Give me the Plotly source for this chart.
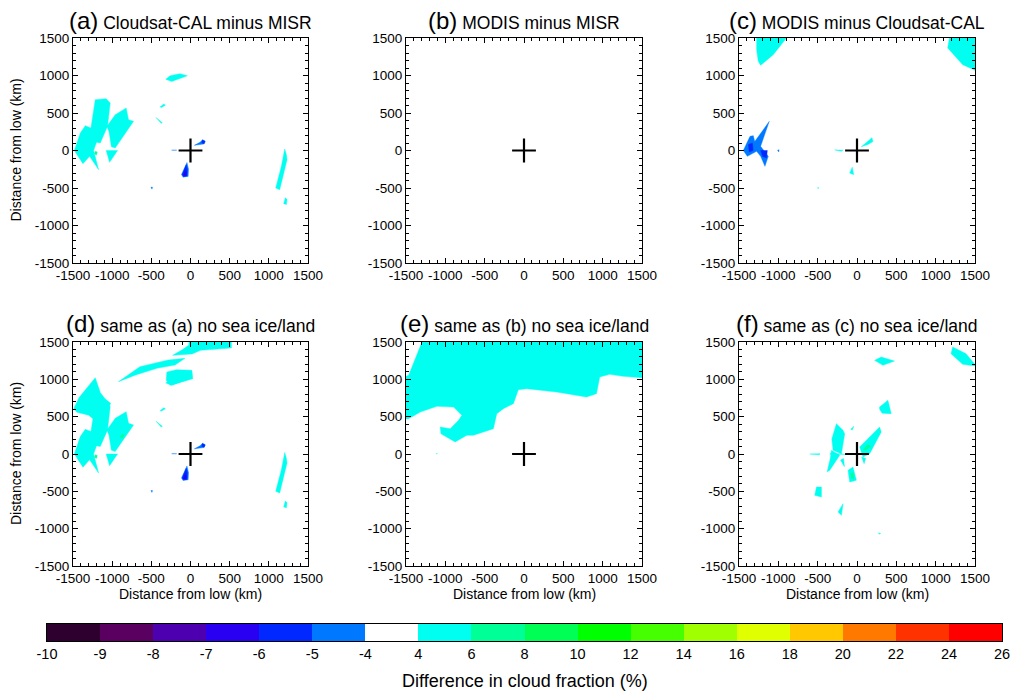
import plotly.graph_objects as go

# ---------------- data ----------------
LEVELS = [-10, -9, -8, -7, -6, -5, -4, 4, 6, 8, 10, 12, 14, 16, 18, 20, 22, 24, 26]
LEVEL_LABELS = ["-10", "-9", "-8", "-7", "-6", "-5", "-4", "4", "6", "8", "10",
                "12", "14", "16", "18", "20", "22", "24", "26"]
BIN_COLORS = ["#2d0030", "#5a0060", "#4d00b0", "#2a00f2", "#0028ff", "#0078ff",
              "#ffffff", "#00fff0", "#00ff96", "#00ff55", "#00ff00", "#46ff00",
              "#a0ff00", "#e0ff00", "#ffc800", "#ff7800", "#ff3200", "#ff0000"]

AXIS_TICKS = [-1500, -1000, -500, 0, 500, 1000, 1500]
AXIS_TICK_LABELS = ["-1500", "-1000", "-500", "0", "500", "1000", "1500"]

PANEL_LETTERS = ["(a)", "(b)", "(c)", "(d)", "(e)", "(f)"]
PANEL_TITLES = ["Cloudsat-CAL minus MISR", "MODIS minus MISR", "MODIS minus Cloudsat-CAL",
                "same as (a) no sea ice/land", "same as (b) no sea ice/land",
                "same as (c) no sea ice/land"]

LOW_CENTER_X = [0]
LOW_CENTER_Y = [0]

# polygons (km) of filled contour regions, grouped by colour bin
A_BIN_4_6 = [
    [(-1483, 0), (-1407, 233), (-1343, 331), (-1271, 300), (-1200, 110), (-1237, 0),
     (-1173, -256), (-1288, -78), (-1373, -176)],
    [(-1216, 678), (-1076, 691), (-1025, 633), (-1059, 322), (-1152, 100), (-1200, 110),
     (-1271, 300)],
    [(-1067, 322), (-961, 478), (-821, 567), (-791, 411), (-727, 389), (-961, 33),
     (-1010, 50), (-1040, 250)],
    [(-1076, 0), (-931, 0), (-1033, -158)],
    [(-316, 951), (-261, 996), (-134, 1024), (-40, 996), (-240, 920)],
    [(-390, 580), (-340, 620), (-320, 605), (-370, 575)],
    [(-440, 440), (-360, 370), (-375, 362)],
    [(1203, 20), (1225, -60), (1232, -122), (1139, -522), (1088, -500), (1160, -211)],
    [(1210, -630), (1232, -650), (1225, -720), (1190, -710)],
]
A_BIN_6_8 = [
    [(-1215, -10), (-1190, -20), (-1200, -60), (-1225, -45)],
]
A_BIN_M5_M4 = [
    [(49, 69), (121, 109), (155, 144), (189, 122), (172, 87), (121, 78)],
    [(-240, 4), (-176, 4), (-180, -5), (-240, -5)],
    [(-505, -488), (-485, -490), (-492, -515)],
    [(-45, -160), (-25, -250), (-30, -345), (-95, -355), (-115, -320), (-80, -240)],
]
A_BIN_M6_M5 = [
    [(150, 140), (185, 125), (175, 92), (145, 100)],
    [(-55, -190), (-40, -250), (-45, -340), (-90, -345), (-105, -320), (-75, -250)],
]
A_BIN_M7_M6 = [
    [(-65, -270), (-50, -300), (-60, -335), (-90, -330)],
]

D_EXTRA_BIN_4_6 = [
    [(-1490, 610), (-1420, 760), (-1216, 1022), (-1150, 820), (-1090, 740), (-1020, 680),
     (-1060, 560), (-1150, 470), (-1216, 450), (-1300, 520), (-1450, 560)],
    [(-920, 969), (-646, 1170), (-284, 1259), (-71, 1281), (-197, 1192), (-429, 1147),
     (-700, 1058)],
    [(-302, 1098), (-180, 1130), (17, 1120), (30, 1009), (-258, 920), (-310, 987)],
    [(-20, 1500), (522, 1500), (522, 1420), (129, 1388), (20, 1340), (-228, 1321),
     (-100, 1400), (-20, 1460)],
]
D_EXTRA_BIN_6_8 = [
    [(-900, 230), (-860, 270), (-850, 240), (-880, 215)],
]

C_BIN_4_6 = [
    [(-1276, 1500), (-896, 1500), (-1065, 1278), (-1225, 1136), (-1255, 1189), (-1276, 1344)],
    [(1175, 1500), (1500, 1500), (1500, 1069), (1344, 1144), (1153, 1367), (1175, 1480)],
    [(-283, 8), (-177, 5), (-200, -10)],
    [(55, 50), (140, 130), (190, 170), (203, 120), (140, 80)],
    [(-93, -300), (-60, -222), (-42, -322)],
    [(-500, -490), (-488, -495), (-495, -510)],
]
C_BIN_M5_M4 = [
    [(-1445, 0), (-1360, 189), (-1318, 198), (-1300, 120), (-1115, 389), (-1225, 56),
     (-1128, -78), (-1170, -211), (-1225, -78), (-1276, -11), (-1394, -78)],
    [(-1010, 5), (-990, 10), (-995, -20)],
]
C_BIN_M6_M5 = [
    [(-1380, 80), (-1330, 100), (-1320, 0), (-1370, -20)],
    [(-1225, 0), (-1140, 0), (-1150, -100), (-1200, -80)],
]

E_BIN_4_6 = [
    [(-1297, 1500), (1500, 1500), (1500, 1022), (1259, 1040), (1090, 1067), (963, 1031),
     (921, 808), (794, 763), (414, 830), (34, 875), (-72, 861), (-135, 674), (-262, 607),
     (-346, 540), (-389, 339), (-515, 295), (-642, 250), (-727, 250), (-875, 161),
     (-1056, 272), (-1065, 362), (-938, 339), (-832, 451), (-790, 518), (-895, 629),
     (-1107, 638), (-1318, 562), (-1466, 473), (-1500, 470), (-1500, 1040), (-1466, 1054)],
    [(-1120, 5), (-1100, 5), (-1110, -5)],
]

F_BIN_4_6 = [
    [(1217, 1433), (1386, 1344), (1500, 1200), (1500, 1180), (1343, 1201), (1195, 1344)],
    [(224, 1254), (308, 1299), (477, 1245), (330, 1187)],
    [(287, 629), (393, 719), (435, 540), (320, 545), (287, 600)],
    [(-320, 200), (-262, 406), (-180, 320), (-156, 272), (-198, 4), (-304, 49)],
    [(-325, 49), (-220, -18), (-346, -219), (-380, -240), (-340, -60)],
    [(34, 94), (203, 272), (287, 361), (308, 295), (161, 4), (76, -40)],
    [(-114, -219), (-51, -174), (-8, -353), (-93, -375)],
    [(-210, -80), (-170, -60), (-160, -170)],
    [(-80, 330), (-40, 370), (-60, 320)],
    [(-600, 0), (-470, 5), (-480, -10)],
    [(-340, 10), (-100, 5), (-100, -5), (-340, -5)],
    [(-515, -442), (-452, -442), (-452, -576), (-537, -554)],
    [(-241, -777), (-177, -665), (-198, -821)],
    [(60, -40), (110, -60), (90, -130)],
    [(270, -1060), (300, -1060), (290, -1075)],
]
F_BIN_6_8 = [
    [(80, 60), (140, 130), (170, 100), (110, 50)],
    [(-80, -260), (-50, -250), (-40, -330), (-70, -320)],
]

# which polygon groups go into which panel, and their colour-bin index
PANEL_LAYERS = [
    [(A_BIN_4_6, 7), (A_BIN_6_8, 8), (A_BIN_M5_M4, 5), (A_BIN_M6_M5, 4), (A_BIN_M7_M6, 3)],
    [],
    [(C_BIN_4_6, 7), (C_BIN_M5_M4, 5), (C_BIN_M6_M5, 4)],
    [(A_BIN_4_6, 7), (D_EXTRA_BIN_4_6, 7), (A_BIN_6_8, 8), (D_EXTRA_BIN_6_8, 8),
     (A_BIN_M5_M4, 5), (A_BIN_M6_M5, 4), (A_BIN_M7_M6, 3)],
    [(E_BIN_4_6, 7)],
    [(F_BIN_4_6, 7), (F_BIN_6_8, 8)],
]

# ---------------- layout constants ----------------
W, H = 1013, 692
FONT = "Liberation Sans, Arial, Helvetica, sans-serif"
COL_X = [(73, 308), (406, 642), (739, 975)]
ROW_Y = [(38, 263), (342, 566)]


def px_x(p):
    return p / W


def px_y(p):
    return 1 - p / H


fig = go.Figure()


def add_polys(polys, color, ax):
    xs, ys = [], []
    for poly in polys:
        for x, y in poly:
            xs.append(x)
            ys.append(y)
        xs.append(poly[0][0])
        ys.append(poly[0][1])
        xs.append(None)
        ys.append(None)
    fig.add_trace(go.Scatter(x=xs, y=ys, mode="lines", fill="toself", fillcolor=color,
                             line=dict(color=color, width=0.4), xaxis="x" + ax,
                             yaxis="y" + ax, hoverinfo="skip", showlegend=False))


layout_axes = {}
annotations = []
for i in range(6):
    r, c = divmod(i, 3)
    ax = "" if i == 0 else str(i + 1)
    for group, bin_idx in PANEL_LAYERS[i]:
        add_polys(group, BIN_COLORS[bin_idx], ax)
    fig.add_trace(go.Scatter(x=LOW_CENTER_X, y=LOW_CENTER_Y, mode="markers",
                             marker=dict(symbol="cross-thin", size=17,
                                         line=dict(color="black", width=2.2)),
                             xaxis="x" + ax, yaxis="y" + ax, hoverinfo="skip",
                             showlegend=False))
    common = dict(range=[-1500, 1500], tickmode="array", tickvals=AXIS_TICKS,
                  ticktext=AXIS_TICK_LABELS, ticks="inside", ticklen=5, tickwidth=1,
                  tickcolor="black", showline=True, linecolor="black", linewidth=1,
                  mirror="allticks", showgrid=False, zeroline=False, automargin=False,
                  tickangle=0,
                  tickfont=dict(family=FONT, size=13.5, color="black"),
                  minor=dict(tickmode="linear", tick0=0, dtick=100, ticks="inside",
                             ticklen=3, tickcolor="black", showgrid=False),
                  fixedrange=True)
    x0, x1 = COL_X[c]
    y0, y1 = ROW_Y[r]
    layout_axes["xaxis" + ax] = dict(domain=[px_x(x0), px_x(x1)],
                                     anchor="y" + ax, **common)
    layout_axes["yaxis" + ax] = dict(domain=[px_y(y1), px_y(y0)],
                                     anchor="x" + ax, **common)
    title_y = 20 if r == 0 else 323
    annotations.append(dict(
        text="<span style='font-size:24px'>%s</span> %s" % (PANEL_LETTERS[i], PANEL_TITLES[i]),
        x=px_x((x0 + x1) / 2), y=px_y(title_y), xref="paper", yref="paper",
        xanchor="center", yanchor="middle", showarrow=False,
        font=dict(family=FONT, size=17.5, color="black")))
    if c == 0:
        annotations.append(dict(text="Distance from low (km)", textangle=-90,
                                x=px_x(16), y=px_y((y0 + y1) / 2), xref="paper",
                                yref="paper", xanchor="center", yanchor="middle",
                                showarrow=False,
                                font=dict(family=FONT, size=14, color="black")))
    if r == 1:
        annotations.append(dict(text="Distance from low (km)",
                                x=px_x((x0 + x1) / 2), y=px_y(594), xref="paper",
                                yref="paper", xanchor="center", yanchor="middle",
                                showarrow=False,
                                font=dict(family=FONT, size=14, color="black")))

# ---------------- colour bar ----------------
nb = len(BIN_COLORS)
colorscale = []
for k, col in enumerate(BIN_COLORS):
    colorscale.append([k / nb, col])
    colorscale.append([(k + 1) / nb, col])
fig.add_trace(go.Heatmap(z=[list(range(nb))], x=list(range(nb + 1)), y=[0, 1],
                         colorscale=colorscale, zmin=-0.5, zmax=nb - 0.5,
                         showscale=False, xaxis="x7", yaxis="y7", hoverinfo="skip"))
layout_axes["xaxis7"] = dict(domain=[px_x(47), px_x(1002)], anchor="y7", range=[0, nb],
                             tickmode="array", tickvals=list(range(nb + 1)),
                             ticktext=LEVEL_LABELS, ticks="", showline=True,
                             linecolor="black", linewidth=1, mirror=True, showgrid=False,
                             zeroline=False, fixedrange=True, automargin=False,
                             tickangle=0,
                             tickfont=dict(family=FONT, size=14.5, color="black"))
layout_axes["yaxis7"] = dict(domain=[px_y(641), px_y(624)], anchor="x7", range=[0, 1],
                             showticklabels=False, ticks="", showline=True,
                             linecolor="black", linewidth=1, mirror=True, showgrid=False,
                             zeroline=False, fixedrange=True, automargin=False)
annotations.append(dict(text="Difference in cloud fraction (%)", x=px_x(525), y=px_y(681),
                        xref="paper", yref="paper", xanchor="center", yanchor="middle",
                        showarrow=False, font=dict(family=FONT, size=18, color="black")))

fig.update_layout(template="none", width=W, height=H,
                  margin=dict(l=0, r=0, t=0, b=0, pad=0),
                  font=dict(family=FONT, color="black"),
                  paper_bgcolor="white", plot_bgcolor="white", showlegend=False,
                  annotations=annotations, **layout_axes)

fig.write_html("out.html",
               config={"displayModeBar": False, "staticPlot": True},
               post_script="document.body.style.margin='0';"
                           "document.body.style.overflow='hidden';")
